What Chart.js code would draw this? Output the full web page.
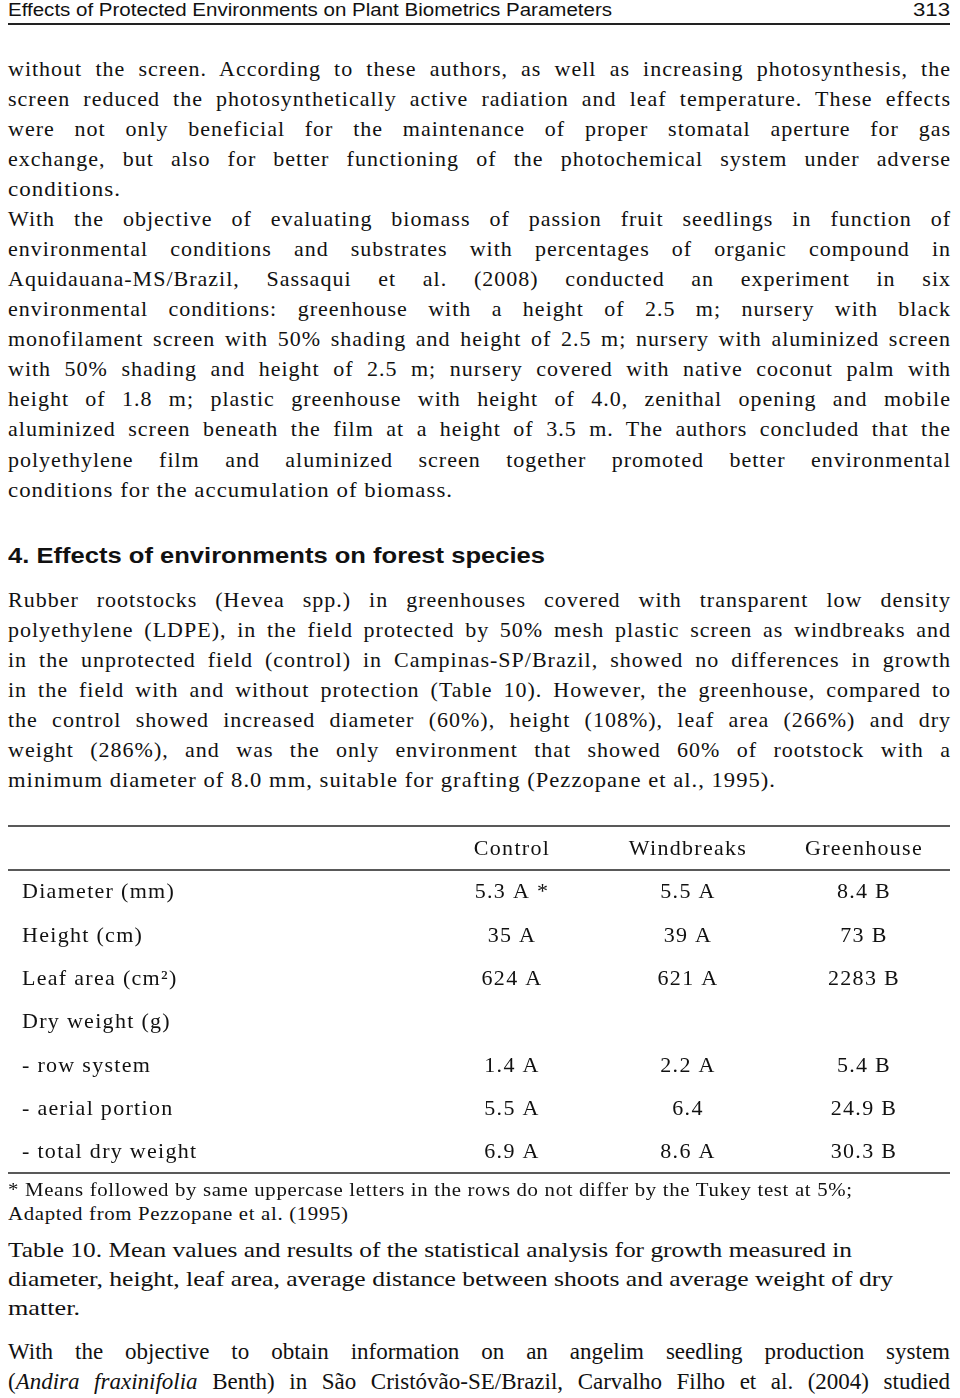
<!DOCTYPE html>
<html><head><meta charset="utf-8">
<script src="https://cdn.jsdelivr.net/npm/chart.js@4.4.1/dist/chart.umd.min.js"></script>
<style>
html,body{margin:0;padding:0;background:#fff;}
body{width:960px;height:1398px;position:relative;overflow:hidden;color:#111;}
.ln{position:absolute;white-space:pre;transform-origin:0 0;}
.rule{position:absolute;background:#222;}
#tblWrap{position:absolute;left:0;top:800px;width:960px;height:390px;}
</style></head><body>
<div class="rule" style="left:8px;top:23px;width:942px;height:2px"></div>
<div id="tblWrap"><canvas id="tbl" width="960" height="390"></canvas></div>
<script>
// ---- table data ----
const columns = ['Control', 'Windbreaks', 'Greenhouse'];
const rows = ['Diameter (mm)', 'Height (cm)', 'Leaf area (cm\u00B2)', 'Dry weight (g)', '- row system', '- aerial portion', '- total dry weight'];
const controlValues = [5.3, 35, 624, null, 1.4, 5.5, 6.9];
const controlGroups = ['A *', 'A', 'A', null, 'A', 'A', 'A'];
const windbreaksValues = [5.5, 39, 621, null, 2.2, 6.4, 8.6];
const windbreaksGroups = ['A', 'A', 'A', null, 'A', '', 'A'];
const greenhouseValues = [8.4, 73, 2283, null, 5.4, 24.9, 30.3];
const greenhouseGroups = ['B', 'B', 'B', null, 'B', 'B', 'B'];

// ---- page text ----
const SERIF = '"Liberation Serif","Times New Roman",serif';
const SANS = '"Liberation Sans",Arial,sans-serif';
const FM = { serif: [0.891, 0.216], sans: [0.905, 0.212] };
const LINES = [
  // [html, baseline, x, endX, mode, family, size, weight, letterSpacing]
  ['Effects of Protected Environments on Plant Biometrics Parameters', 17, 8, 612, 'f', 'sans', 17.5, 400, 0],
  ['313', 17, 913, 950, 'f', 'sans', 17.5, 400, 0],
  ['without the screen. According to these authors, as well as increasing photosynthesis, the', 76, 8, 950, 'j', 'serif', 22, 400, 1],
  ['screen reduced the photosynthetically active radiation and leaf temperature. These effects', 106, 8, 950, 'j', 'serif', 22, 400, 1],
  ['were not only beneficial for the maintenance of proper stomatal aperture for gas', 136, 8, 950, 'j', 'serif', 22, 400, 1],
  ['exchange, but also for better functioning of the photochemical system under adverse', 166, 8, 950, 'j', 'serif', 22, 400, 1],
  ['conditions.', 196, 8, 120, 'f', 'serif', 22, 400, 1],
  ['With the objective of evaluating biomass of passion fruit seedlings in function of', 226, 8, 950, 'j', 'serif', 22, 400, 1],
  ['environmental conditions and substrates with percentages of organic compound in', 256, 8, 950, 'j', 'serif', 22, 400, 1],
  ['Aquidauana-MS/Brazil, Sassaqui et al. (2008) conducted an experiment in six', 286, 8, 950, 'j', 'serif', 22, 400, 1],
  ['environmental conditions: greenhouse with a height of 2.5 m; nursery with black', 316, 8, 950, 'j', 'serif', 22, 400, 1],
  ['monofilament screen with 50% shading and height of 2.5 m; nursery with aluminized screen', 346, 8, 950, 'j', 'serif', 22, 400, 1],
  ['with 50% shading and height of 2.5 m; nursery covered with native coconut palm with', 376, 8, 950, 'j', 'serif', 22, 400, 1],
  ['height of 1.8 m; plastic greenhouse with height of 4.0, zenithal opening and mobile', 406, 8, 950, 'j', 'serif', 22, 400, 1],
  ['aluminized screen beneath the film at a height of 3.5 m. The authors concluded that the', 436, 8, 950, 'j', 'serif', 22, 400, 1],
  ['polyethylene film and aluminized screen together promoted better environmental', 467, 8, 950, 'j', 'serif', 22, 400, 1],
  ['conditions for the accumulation of biomass.', 497, 8, 452, 'f', 'serif', 22, 400, 1],
  ['4. Effects of environments on forest species', 563, 8, 545, 'f', 'sans', 22.5, 700, 0],
  ['Rubber rootstocks (Hevea spp.) in greenhouses covered with transparent low density', 607, 8, 950, 'j', 'serif', 22, 400, 1],
  ['polyethylene (LDPE), in the field protected by 50% mesh plastic screen as windbreaks and', 637, 8, 950, 'j', 'serif', 22, 400, 1],
  ['in the unprotected field (control) in Campinas-SP/Brazil, showed no differences in growth', 667, 8, 950, 'j', 'serif', 22, 400, 1],
  ['in the field with and without protection (Table 10). However, the greenhouse, compared to', 697, 8, 950, 'j', 'serif', 22, 400, 1],
  ['the control showed increased diameter (60%), height (108%), leaf area (266%) and dry', 727, 8, 950, 'j', 'serif', 22, 400, 1],
  ['weight (286%), and was the only environment that showed 60% of rootstock with a', 757, 8, 950, 'j', 'serif', 22, 400, 1],
  ['minimum diameter of 8.0 mm, suitable for grafting (Pezzopane et al., 1995).', 787, 8, 775, 'f', 'serif', 22, 400, 1],
  ['* Means followed by same uppercase letters in the rows do not differ by the Tukey test at 5%;', 1196, 8, 852, 'f', 'serif', 18.5, 400, 0.6],
  ['Adapted from Pezzopane et al. (1995)', 1220, 8, 348, 'f', 'serif', 18.5, 400, 0.6],
  ['Table 10. Mean values and results of the statistical analysis for growth measured in', 1257, 8, 852, 'f', 'serif', 22, 400, 0],
  ['diameter, height, leaf area, average distance between shoots and average weight of dry', 1286, 8, 893, 'f', 'serif', 22, 400, 0],
  ['matter.', 1315, 8, 80, 'f', 'serif', 22, 400, 0],
  ['With the objective to obtain information on an angelim seedling production system', 1360, 8, 950, 'j', 'serif', 23, 400, 0],
  ['(<i>Andira fraxinifolia</i> Benth) in S\u00E3o Crist\u00F3v\u00E3o-SE/Brazil, Carvalho Filho et al. (2004) studied', 1390, 8, 950, 'j', 'serif', 23, 400, 0]
];

const els = [];
LINES.forEach(l => {
  const [html, base, x, endX, mode, fam, size, weight, ls] = l;
  const d = document.createElement('div');
  d.className = 'ln';
  d.innerHTML = html;
  const lh = Math.round(size * 1.3);
  const [a, de] = FM[fam];
  const off = (lh - (a + de) * size) / 2 + a * size;
  d.style.cssText = `left:${x}px;top:${(base - off).toFixed(2)}px;font-family:${fam === 'serif' ? SERIF : SANS};font-size:${size}px;font-weight:${weight};line-height:${lh}px;letter-spacing:${ls}px;`;
  document.body.appendChild(d);
  els.push([d, x, endX, mode, ls]);
});

function fit() {
  els.forEach(([d, x, endX, mode, ls]) => {
    d.style.transform = 'none';
    d.style.wordSpacing = '0px';
    const w = d.getBoundingClientRect().width - ls; // drop trailing letter-spacing
    const target = endX - x;
    if (mode === 'j') {
      const n = (d.textContent.match(/ /g) || []).length;
      const extra = target - w;
      if (extra >= 0 && n > 0) d.style.wordSpacing = (extra / n) + 'px';
      else d.style.transform = `scaleX(${target / w})`;
    } else {
      d.style.transform = `scaleX(${target / w})`;
    }
  });
}
fit();
if (document.fonts && document.fonts.ready) document.fonts.ready.then(fit);

// ---- table drawn with Chart.js ----
const valueSets = [controlValues, windbreaksValues, greenhouseValues];
const groupSets = [controlGroups, windbreaksGroups, greenhouseGroups];
const datasets = columns.map((c, ci) => ({
  label: c,
  data: rows.map((r, ri) => valueSets[ci][ri] == null ? null :
    { x: c, y: r, v: valueSets[ci][ri], g: groupSets[ci][ri] }).filter(Boolean),
  showLine: false,
  pointRadius: 0,
  pointHoverRadius: 0
}));

const CELL_LS = '1.3px';
const cellPlugin = {
  id: 'cells',
  beforeDraw(chart) {
    chart.ctx.letterSpacing = CELL_LS;
  },
  afterDatasetsDraw(chart) {
    const ctx = chart.ctx;
    const ca = chart.chartArea;
    ctx.save();
    ctx.letterSpacing = '0px';
    ctx.strokeStyle = '#222';
    ctx.lineWidth = 1.6;
    [ca.top - 45, ca.top - 1, ca.bottom - 1].forEach(y => {
      ctx.beginPath(); ctx.moveTo(8, y); ctx.lineTo(950, y); ctx.stroke();
    });
    ctx.letterSpacing = CELL_LS;
    ctx.fillStyle = '#111';
    ctx.font = '22px ' + SERIF;
    ctx.textAlign = 'center';
    ctx.textBaseline = 'middle';
    chart.data.datasets.forEach((ds, di) => {
      const meta = chart.getDatasetMeta(di);
      meta.data.forEach((pt, i) => {
        const rec = ds.data[i];
        const txt = String(rec.v) + (rec.g ? ' ' + rec.g : '');
        ctx.fillText(txt, pt.x, pt.y);
      });
    });
    ctx.restore();
  }
};

const tickFont = { family: SERIF, size: 22 };
new Chart(document.getElementById('tbl'), {
  type: 'line',
  data: { labels: columns, datasets },
  options: {
    responsive: false,
    animation: false,
    events: [],
    layout: { padding: { left: 22, right: 8, top: 0, bottom: 16 } },
    plugins: { legend: { display: false }, tooltip: { enabled: false } },
    scales: {
      x: {
        type: 'category', labels: columns, position: 'top', offset: true,
        grid: { display: false }, border: { display: false },
        ticks: { font: tickFont, color: '#111', padding: 1, maxRotation: 0, autoSkip: false },
        afterFit(s) { s.height = 71; }
      },
      y: {
        type: 'category', labels: rows, offset: true,
        grid: { display: false }, border: { display: false },
        ticks: { font: tickFont, color: '#111', crossAlign: 'far', autoSkip: false, padding: 0 },
        afterFit(s) { s.width = 402; }
      }
    }
  },
  plugins: [cellPlugin]
});
</script>
</body></html>
